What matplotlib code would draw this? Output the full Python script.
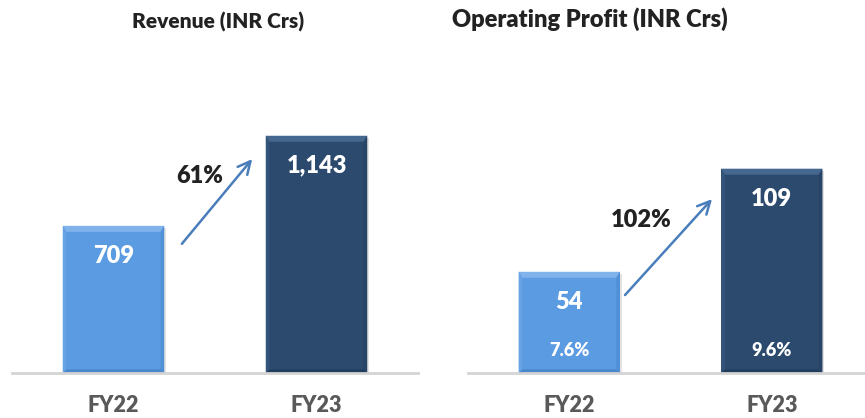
import matplotlib
matplotlib.use("Agg")
import matplotlib.pyplot as plt
from matplotlib.patches import Polygon

# ---- data ----
categories = ["FY22", "FY23"]
revenue = [709, 1143]
revenue_labels = ["709", "1,143"]
op_profit = [54, 109]
op_profit_labels = ["54", "109"]
op_margin_labels = ["7.6%", "9.6%"]
revenue_growth = "61%"
op_profit_growth = "102%"
titles = ["Revenue (INR Crs)", "Operating Profit (INR Crs)"]

# ---- style ----
FONT = "Lato"
WT = "heavy"
W, H = 865, 418
LIGHT = "#5b9be1"
DARK = "#2c4a6e"
bar_colors = [LIGHT, DARK]
bevel = {LIGHT: ("#80b3eb", "#67a3e4", "#5190d6", "#4a86cc"),
         DARK: ("#46688f", "#35547a", "#284466", "#233d5c")}
ARROW = "#4a7ebb"

fig = plt.figure(figsize=(W / 100, H / 100), dpi=100)

def px_axes(left, bottom, width, height):
    return fig.add_axes([left / W, bottom / H, width / W, height / H])

ax1 = px_axes(12, 45, 406, 313)
ax2 = px_axes(468, 45, 397, 313)
ax1.set_xlim(-0.5, 1.5)
ax1.set_ylim(0, 1508)
ax2.set_xlim(-0.5, 1.46)
ax2.set_ylim(0, 167)


def draw_bevel(ax, rect, color, b=6):
    x0, y0 = rect.get_x(), rect.get_y()
    x1, y1 = x0 + rect.get_width(), y0 + rect.get_height()
    inv = ax.transData.inverted()
    (px0, py0) = ax.transData.transform((0, 0))
    (dx, dy) = inv.transform((px0 + b, py0 + b))
    bs = b * 0.6
    (sdx, sdy) = inv.transform((px0 + bs, py0 + bs))
    top, left, right, bottom = bevel[color]
    polys = [
        ([(x0, y1), (x1, y1), (x1 - sdx, y1 - dy), (x0 + sdx, y1 - dy)], top),
        ([(x0, y0), (x0, y1), (x0 + sdx, y1 - dy), (x0 + sdx, y0 + sdy)], left),
        ([(x1, y0), (x1, y1), (x1 - sdx, y1 - dy), (x1 - sdx, y0 + sdy)], right),
        ([(x0, y0), (x1, y0), (x1 - sdx, y0 + sdy), (x0 + sdx, y0 + sdy)], bottom),
    ]
    for pts, c in polys:
        ax.add_patch(Polygon(pts, closed=True, facecolor=c, edgecolor="none", zorder=3))
    # soft shadow
    sx, sy = inv.transform((px0 + 2, py0 - 2))
    ax.add_patch(Polygon([(x0 + sx, y0), (x1 + sx, y0), (x1 + sx, y1 + sy), (x0 + sx, y1 + sy)],
                         closed=True, facecolor="#c8c8c8", edgecolor="none", alpha=0.5, zorder=1))


for ax, vals, labels in [(ax1, revenue, revenue_labels), (ax2, op_profit, op_profit_labels)]:
    bars = ax.bar(range(len(categories)), vals, width=0.5, color=bar_colors,
                  edgecolor="none", zorder=2)
    for rect, c in zip(bars, bar_colors):
        draw_bevel(ax, rect, c)
    for i, (v, lab) in enumerate(zip(vals, labels)):
        ax.annotate(lab, (i, v), xytext=(0, -21.5), textcoords="offset points",
                    ha="center", va="center", color="white", fontsize=17,
                    fontweight=WT, family=FONT, zorder=5)
    for s in ["top", "right", "left"]:
        ax.spines[s].set_visible(False)
    ax.spines["bottom"].set_color("#d4d4d4")
    ax.spines["bottom"].set_linewidth(2)
    ax.spines["bottom"].set_zorder(4)
    ax.set_yticks([])
    ax.set_xticks(range(len(categories)))
    ax.set_xticklabels(categories, fontsize=15.5, fontweight=WT, family=FONT,
                       color="#595959")
    ax.tick_params(axis="x", length=0, pad=16)

for i, lab in enumerate(op_margin_labels):
    ax2.annotate(lab, (i, 0), xytext=(0, 16.5), textcoords="offset points",
                 ha="center", va="center", color="white", fontsize=13,
                 fontweight=WT, family=FONT, zorder=5)

# growth arrows and labels
ax1.annotate("", xy=(0.692, 1041), xytext=(0.328, 612),
             arrowprops=dict(arrowstyle="->,head_length=0.9,head_width=0.45",
                             color=ARROW, lw=1.8))
ax1.text(0.426, 949, revenue_growth, ha="center", va="center", fontsize=17,
         fontweight=WT, family=FONT, color="#222222")
ax2.annotate("", xy=(0.714, 93.9), xytext=(0.266, 40.5),
             arrowprops=dict(arrowstyle="->,head_length=0.9,head_width=0.45",
                             color=ARROW, lw=1.8))
ax2.text(0.355, 81.6, op_profit_growth, ha="center", va="center", fontsize=17,
         fontweight=WT, family=FONT, color="#222222")

fig.text(218 / W, 1 - 22 / H, titles[0], ha="center", va="center", fontsize=15,
         fontweight=WT, family=FONT, color="#222222")
fig.text(590 / W, 1 - 19 / H, titles[1], ha="center", va="center", fontsize=17,
         fontweight=WT, family=FONT, color="#222222")

fig.savefig("out.png", dpi=100)
